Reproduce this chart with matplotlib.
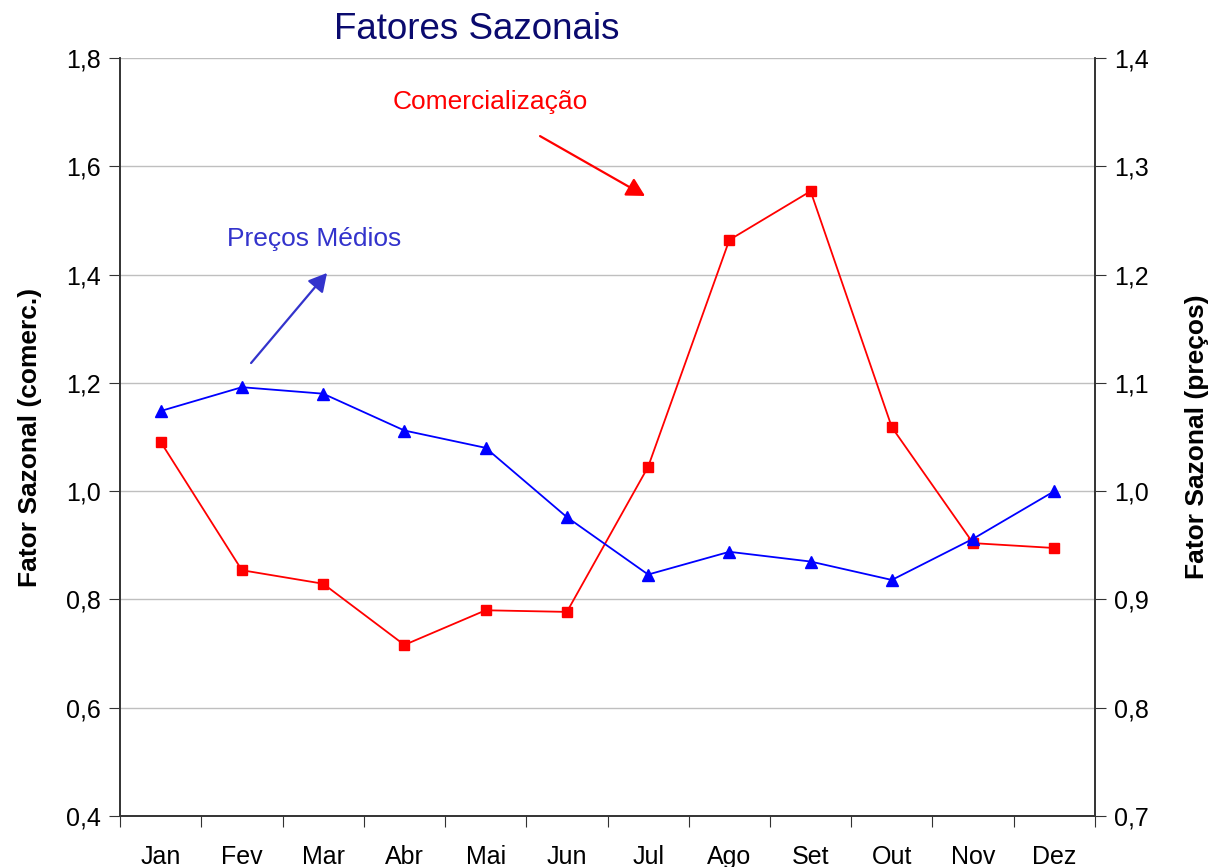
import matplotlib.pyplot as plt
from matplotlib.ticker import FixedLocator, FuncFormatter

plt.rcParams['font.family'] = ['Liberation Sans', 'DejaVu Sans']

months = ["Jan", "Fev", "Mar", "Abr", "Mai", "Jun", "Jul", "Ago", "Set", "Out", "Nov", "Dez"]
# seasonal factor for commercialization (left axis)
comerc = [1.091, 0.854, 0.829, 0.716, 0.780, 0.777, 1.045, 1.464, 1.554, 1.118, 0.904, 0.895]
# seasonal factor for average prices (right axis)
precos = [1.074, 1.096, 1.090, 1.056, 1.040, 0.976, 0.923, 0.944, 0.935, 0.918, 0.956, 1.000]

fig = plt.figure(figsize=(12.15, 8.67), dpi=100)
ax = fig.add_axes([0.0988, 0.0588, 0.8024, 0.8743])
ax2 = ax.twinx()

x = list(range(len(months)))
ax.plot(x, comerc, color='#ff0000', lw=1.3, marker='s', ms=7, zorder=3)
ax2.plot(x, precos, color='#0000ff', lw=1.3, marker='^', ms=8, zorder=3)

ax.set_xlim(-0.5, len(months) - 0.5)
ax.set_ylim(0.4, 1.8)
ax2.set_ylim(0.7, 1.4)
ax.set_yticks([0.4, 0.6, 0.8, 1.0, 1.2, 1.4, 1.6, 1.8])
ax2.set_yticks([0.7, 0.8, 0.9, 1.0, 1.1, 1.2, 1.3, 1.4])
comma = FuncFormatter(lambda v, p: f"{v:.1f}".replace('.', ','))
ax.yaxis.set_major_formatter(comma)
ax2.yaxis.set_major_formatter(comma)

ax.xaxis.set_major_locator(FixedLocator([i - 0.5 for i in range(len(months) + 1)]))
ax.xaxis.set_minor_locator(FixedLocator(x))
ax.set_xticklabels([])
ax.set_xticklabels(months, minor=True)
ax.tick_params(axis='x', which='major', length=8, direction='out', color='#333333')
ax.tick_params(axis='x', which='minor', length=0, pad=21, labelsize=18)
ax.tick_params(axis='y', length=8, direction='out', labelsize=18, pad=6, color='#333333')
ax2.tick_params(axis='y', length=8, direction='out', labelsize=18, pad=6, color='#333333')

ax.grid(axis='y', color='#bfbfbf', lw=1)
ax.set_axisbelow(True)
for a in (ax, ax2):
    a.spines['top'].set_visible(False)
    for s in ('left', 'right', 'bottom'):
        a.spines[s].set_color('#333333')
        a.spines[s].set_linewidth(1.2)

ax.set_ylabel("Fator Sazonal (comerc.)", fontsize=19, fontweight='bold', labelpad=17)
ax2.set_ylabel("Fator Sazonal (preços)", fontsize=19, fontweight='bold', labelpad=26)

fig.text(0.3926, 0.966, "Fatores Sazonais", ha='center', va='center',
         fontsize=26.5, color='#0a0a6e')

head = '-|>,head_length=1.1,head_width=0.6'
ax2.annotate("", xy=(0.5385, 0.818), xytext=(0.4308, 0.897),
             xycoords='axes fraction', textcoords='axes fraction',
             arrowprops=dict(arrowstyle=head, color='#ff0000', lw=1.6,
                             shrinkA=0, shrinkB=0))
ax2.text(0.3795, 0.942, "Comercialização", transform=ax.transAxes,
         ha='center', va='center', fontsize=19, color='#ff0000')
ax2.annotate("", xy=(0.2123, 0.7164), xytext=(0.1344, 0.5976),
             xycoords='axes fraction', textcoords='axes fraction',
             arrowprops=dict(arrowstyle=head, color='#3333cc', lw=1.6,
                             shrinkA=0, shrinkB=0))
ax2.text(0.199, 0.761, "Preços Médios", transform=ax.transAxes,
         ha='center', va='center', fontsize=19, color='#3333cc')

fig.savefig("out.png", dpi=100)
